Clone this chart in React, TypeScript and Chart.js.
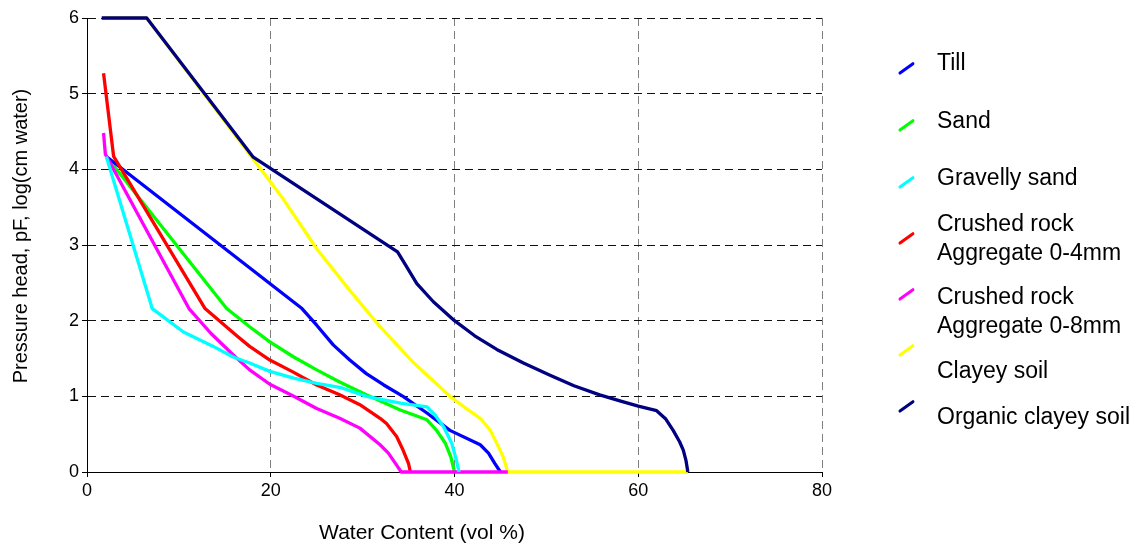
import React, { useEffect, useRef } from "react";
import { Chart, registerables } from "chart.js";

Chart.register(...registerables);

const FONT = '"Liberation Sans", Arial, Helvetica, sans-serif';

// Axis ranges / ticks
const xRange = [0, 80];
const xStep = 20;
const yRange = [0, 6];
const yStep = 1;

const xTitle = "Water Content (vol %)";
const yTitle = "Pressure head, pF, log(cm water)";

// Series: water content (vol %) and pressure head (pF)
const tillX = [2.1, 23.4, 25.0, 26.8, 28.6, 30.4, 32.3, 34.4, 37.0, 39.5, 42.8, 43.7, 44.4, 45.0];
const tillY = [4.17, 2.16, 1.94, 1.68, 1.48, 1.3, 1.15, 1.0, 0.78, 0.55, 0.36, 0.25, 0.11, 0];

const sandX = [2.1, 15.2, 17.7, 19.9, 22.5, 25.0, 27.5, 30.4, 34.1, 37.0, 38.05, 39.0, 39.6, 40.0];
const sandY = [4.17, 2.16, 1.92, 1.72, 1.52, 1.35, 1.19, 1.02, 0.82, 0.69, 0.55, 0.38, 0.2, 0];

const gravelX = [2.1, 7.1, 10.5, 13.75, 15.9, 17.7, 19.9, 22.5, 25.0, 27.5, 30.4, 34.1, 37.0, 37.9, 38.8, 39.7, 40.2, 40.5];
const gravelY = [4.17, 2.16, 1.85, 1.66, 1.52, 1.44, 1.33, 1.24, 1.17, 1.12, 1.0, 0.91, 0.86, 0.75, 0.6, 0.38, 0.16, 0];

const crushed4X = [1.8, 2.9, 12.85, 16.3, 17.7, 19.9, 22.3, 25.0, 27.5, 29.7, 31.9, 32.6, 33.7, 34.4, 35.0, 35.2];
const crushed4Y = [5.27, 4.17, 2.16, 1.8, 1.66, 1.48, 1.33, 1.15, 1.02, 0.89, 0.71, 0.64, 0.47, 0.29, 0.11, 0];

const crushed8X = [1.8, 2.0, 11.1, 13.5, 15.9, 17.7, 19.9, 22.5, 25.0, 27.5, 29.7, 31.9, 32.8, 33.7, 34.2, 45.8];
const crushed8Y = [4.48, 4.2, 2.16, 1.83, 1.55, 1.35, 1.16, 1.0, 0.84, 0.71, 0.58, 0.36, 0.25, 0.09, 0, 0];

const clayX = [1.8, 6.5, 17.7, 21.4, 25.0, 28.6, 31.9, 35.5, 39.5, 41.5, 42.8, 43.9, 44.8, 45.3, 45.8, 65.4];
const clayY = [6, 6, 4.2, 3.6, 2.95, 2.4, 1.92, 1.45, 1.0, 0.82, 0.71, 0.55, 0.33, 0.2, 0, 0];

const organicX = [1.6, 6.5, 18.1, 33.8, 34.6, 35.9, 37.7, 40.0, 42.2, 44.6, 47.5, 50.4, 53.0, 55.8, 58.0, 60.0, 62.0, 63.0, 63.8, 64.5, 64.9, 65.2, 65.4];
const organicY = [6, 6, 4.16, 2.91, 2.75, 2.49, 2.25, 2.0, 1.8, 1.62, 1.44, 1.28, 1.14, 1.02, 0.94, 0.87, 0.81, 0.7, 0.55, 0.4, 0.29, 0.15, 0];

const seriesLabels = [
  ["Till"],
  ["Sand"],
  ["Gravelly sand"],
  ["Crushed rock", "Aggregate 0-4mm"],
  ["Crushed rock", "Aggregate 0-8mm"],
  ["Clayey soil"],
  ["Organic clayey soil"],
];
const seriesColors = ["#0000ff", "#00ff00", "#00ffff", "#ff0000", "#ff00ff", "#ffff00", "#000080"];
const seriesX = [tillX, sandX, gravelX, crushed4X, crushed8X, clayX, organicX];
const seriesY = [tillY, sandY, gravelY, crushed4Y, crushed8Y, clayY, organicY];
// drawing order (0 = on top)
const seriesOrder = [4, 5, 1, 3, 2, 6, 0];

// legend placement (layout)
const legendMarkerY = [68.8, 125, 182, 238.3, 294.5, 350.8, 406.8];
const legendTextY = [61.7, 120, 177.3, 222.7, 296, 370.3, 416];
const legendLineGap = 29;

export default function App() {
  const ref = useRef<HTMLCanvasElement | null>(null);

  useEffect(() => {
    if (!ref.current) return;
    const datasets = seriesLabels.map((lab, i) => ({
      label: lab.join(" "),
      data: seriesX[i].map((x, j) => ({ x, y: seriesY[i][j] })),
      borderColor: seriesColors[i],
      backgroundColor: seriesColors[i],
      borderWidth: 3.3,
      pointRadius: 0,
      tension: 0,
      fill: false,
      clip: 6,
      order: seriesOrder[i],
      borderJoinStyle: "round" as const,
      borderCapStyle: "butt" as const,
    }));

    const chart = new Chart(ref.current, {
      type: "line",
      data: { datasets },
      options: {
        animation: false,
        responsive: false,
        devicePixelRatio: 1,
        layout: { padding: { left: 0, top: 18, right: 1139 - 822, bottom: 0 } },
        plugins: { legend: { display: false }, tooltip: { enabled: false } },
        scales: {
          x: {
            type: "linear",
            min: xRange[0],
            max: xRange[1],
            ticks: {
              stepSize: xStep,
              color: "#000",
              font: { family: FONT, size: 18 },
              padding: 3,
              maxRotation: 0,
            },
            grid: {
              color: "#808080",
              lineWidth: 1,
              drawTicks: true,
              tickLength: 5,
              tickColor: "#000",
              tickWidth: 1,
              tickBorderDash: [],
            },
            border: { display: true, color: "#000", width: 1, dash: [8, 5] },
            afterFit: (s: any) => {
              s.height = 73;
            },
          },
          y: {
            type: "linear",
            min: yRange[0],
            max: yRange[1],
            ticks: {
              stepSize: yStep,
              color: "#000",
              font: { family: FONT, size: 18 },
              padding: 3,
            },
            grid: {
              color: "#111",
              lineWidth: 1,
              drawTicks: true,
              tickLength: 5,
              tickColor: "#000",
              tickWidth: 1,
              tickBorderDash: [],
            },
            border: { display: true, color: "#000", width: 1, dash: [8, 5] },
            afterFit: (s: any) => {
              s.width = 87;
            },
          },
        },
      },
    });
    return () => chart.destroy();
  }, []);

  const textStyle: React.CSSProperties = {
    position: "absolute",
    fontFamily: FONT,
    color: "#000",
    whiteSpace: "nowrap",
    height: 26,
    lineHeight: "26px",
  };

  return (
    <div style={{ position: "absolute", left: 0, top: 0, width: 1139, height: 545, background: "#fff", overflow: "hidden" }}>
      <canvas ref={ref} width={1139} height={545} style={{ display: "block" }} />
      <div
        style={{
          ...textStyle,
          fontSize: 21,
          left: 422 - 200,
          width: 400,
          textAlign: "center",
          top: 532 - 13,
        }}
      >
        {xTitle}
      </div>
      <div
        style={{
          ...textStyle,
          fontSize: 20,
          left: 20 - 200,
          width: 400,
          textAlign: "center",
          top: 236 - 13,
          transform: "rotate(-90deg)",
          transformOrigin: "50% 50%",
        }}
      >
        {yTitle}
      </div>
      {seriesLabels.map((lines, i) => (
        <React.Fragment key={i}>
          <div
            style={{
              position: "absolute",
              left: 906.6 - 9.3,
              top: legendMarkerY[i] - 1.5,
              width: 18.6,
              height: 3,
              borderRadius: 1.5,
              background: seriesColors[i],
              transform: "rotate(-36deg)",
              transformOrigin: "50% 50%",
            }}
          />
          {lines.map((t, k) => (
            <div
              key={k}
              style={{
                ...textStyle,
                fontSize: 23,
                left: 937,
                top: legendTextY[i] + k * legendLineGap - 13,
              }}
            >
              {t}
            </div>
          ))}
        </React.Fragment>
      ))}
    </div>
  );
}
